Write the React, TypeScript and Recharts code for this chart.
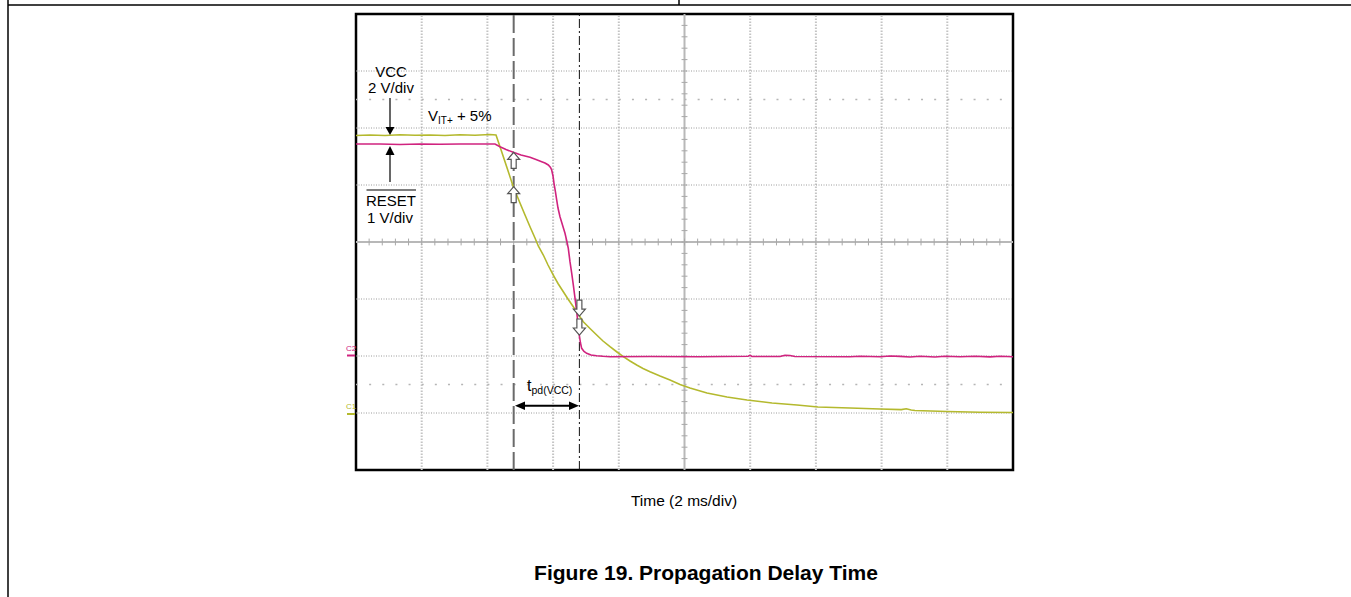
import React from 'react';
import { ComposedChart, Line, XAxis, YAxis, ReferenceLine, ReferenceDot, ReferenceArea } from 'recharts';

// ---- Data (time in ms, voltages in V) ----
const vccTimeMs = [0, 0.426, 0.883, 1.339, 1.796, 2.253, 2.709, 3.166, 3.622, 4.079, 4.262, 4.384, 4.587, 4.788, 4.992, 5.145, 5.297, 5.449, 5.549, 5.702, 5.845, 6.006, 6.149, 6.311, 6.453, 6.615, 6.758, 6.919, 7.123, 7.327, 7.519, 7.732, 7.945, 8.137, 8.341, 8.545, 8.737, 8.95, 9.255, 9.559, 9.863, 10.167, 10.685, 11.294, 11.903, 12.664, 13.425, 14.064, 15.038, 15.951, 16.6, 16.75, 16.9, 17.017, 17.99, 18.995, 20];
const vccVolts = [9.737, 9.754, 9.737, 9.761, 9.744, 9.754, 9.737, 9.761, 9.747, 9.77, 9.754, 9.344, 8.642, 7.94, 7.368, 6.947, 6.537, 6.14, 5.86, 5.544, 5.193, 4.842, 4.544, 4.256, 4.0, 3.73, 3.474, 3.203, 2.965, 2.737, 2.526, 2.326, 2.14, 1.975, 1.825, 1.684, 1.561, 1.449, 1.298, 1.158, 1.0, 0.877, 0.702, 0.561, 0.456, 0.351, 0.281, 0.21, 0.175, 0.14, 0.12, 0.15, 0.105, 0.088, 0.053, 0.028, 0.017];

const resetTimeMs = [0, 0.731, 1.339, 1.948, 2.557, 3.166, 3.775, 4.231, 4.384, 4.566, 4.788, 5.023, 5.297, 5.479, 5.653, 5.753, 5.854, 5.921, 5.957, 5.997, 6.027, 6.073, 6.109, 6.149, 6.21, 6.286, 6.362, 6.423, 6.463, 6.514, 6.566, 6.615, 6.666, 6.718, 6.758, 6.797, 6.834, 6.87, 6.941, 7.023, 7.154, 7.327, 7.519, 7.732, 8.95, 10.472, 11.933, 11.994, 12.055, 12.907, 13.059, 13.211, 13.364, 15.038, 15.342, 15.951, 16.256, 16.56, 16.864, 17.169, 17.625, 17.93, 18.386, 18.843, 19.3, 19.604, 20];
const resetVolts = [3.719, 3.719, 3.711, 3.719, 3.714, 3.719, 3.719, 3.719, 3.672, 3.623, 3.574, 3.526, 3.486, 3.447, 3.409, 3.386, 3.351, 3.307, 3.263, 3.158, 3.03, 2.877, 2.737, 2.596, 2.444, 2.298, 2.153, 2.0, 1.889, 1.654, 1.456, 1.246, 1.018, 0.777, 0.561, 0.368, 0.228, 0.135, 0.079, 0.047, 0.018, 0.005, -0.005, -0.012, -0.009, -0.012, -0.004, 0.012, -0.009, -0.009, 0.012, 0.009, -0.009, -0.012, -0.004, -0.012, 0.0, -0.007, -0.018, -0.004, -0.018, -0.004, -0.014, -0.004, -0.016, -0.005, -0.012];

// oscilloscope graticule (divisions) and cursor positions
const gridTimesMs = [2, 4, 6, 8, 12, 14, 16, 18];
const gridDivs = [-3, -2, -1, 1, 2, 3];
const cursorDivs = [-2.5, 2.5];
const cursorStartMs = 4.8;
const cursorEndMs = 6.8;
const minorTimeTicks = Array.from({ length: 49 }, (_, i) => (i + 1) * 0.4);
const minorDivTicks = Array.from({ length: 39 }, (_, i) => -4 + (i + 1) * 0.2);

// crossing markers
const resetAtStart = 3.574;
const vccAtStart = 7.94;
const vccAtEnd = 3.4;
const resetAtEnd = 0.368;

const vccData = vccTimeMs.map((t, i) => ({ t, v: vccVolts[i] }));
const resetData = resetTimeMs.map((t, i) => ({ t, v: resetVolts[i] }));

const YELLOW = '#b4b92e';
const MAGENTA = '#d0237f';
const FONT = '"Liberation Sans", Arial, Helvetica, sans-serif';

const HollowUp = (props: any) => {
  const { cx, cy } = props;
  return (
    <path
      d={`M${cx},${cy} l6,7 h-3.5 v9 h-5 v-9 h-3.5 z`}
      fill="#fff"
      stroke="#555"
      strokeWidth={1.2}
    />
  );
};

const HollowDown = (props: any) => {
  const { cx, cy } = props;
  return (
    <path
      d={`M${cx},${cy} l-6,-7 h3.5 v-9 h5 v9 h3.5 z`}
      fill="#fff"
      stroke="#555"
      strokeWidth={1.2}
    />
  );
};

export default function App() {
  return (
    <div style={{ position: 'absolute', left: 0, top: 0, width: 1351, height: 597, background: '#fff' }}>
      <ComposedChart
        width={1351}
        height={597}
        margin={{ top: 14, left: 356, right: 338, bottom: 127 }}
      >
        <XAxis type="number" dataKey="t" domain={[0, 20]} allowDataOverflow hide />
        <YAxis yAxisId="div" type="number" domain={[-4, 4]} allowDataOverflow hide />
        <YAxis yAxisId="vcc" type="number" domain={[-2, 14]} allowDataOverflow hide />
        <YAxis yAxisId="reset" type="number" domain={[-2, 6]} allowDataOverflow hide />

        {gridTimesMs.map((t) => (
          <ReferenceLine key={`gx${t}`} x={t} yAxisId="div" stroke="#c4c4c4" strokeWidth={2} strokeDasharray="1.5 1.5" />
        ))}
        {gridDivs.map((d) => (
          <ReferenceLine key={`gy${d}`} y={d} yAxisId="div" stroke="#9c9c9c" strokeWidth={1} strokeDasharray="1 1.5" />
        ))}
        {cursorDivs.map((d) => (
          <ReferenceLine key={`cy${d}`} y={d} yAxisId="div" stroke="#b5b5b5" strokeWidth={1.5} strokeDasharray="2 11.14" />
        ))}

        <ReferenceLine x={10} yAxisId="div" stroke="#b8b8b8" strokeWidth={2} />
        <ReferenceLine y={0} yAxisId="div" stroke="#b8b8b8" strokeWidth={2} />
        {minorTimeTicks.map((t) => (
          <ReferenceLine key={`mt${t}`} yAxisId="div" segment={[{ x: t, y: -0.06 }, { x: t, y: 0.06 }]} stroke="#a8a8a8" strokeWidth={1} />
        ))}
        {minorDivTicks.map((d) => (
          <ReferenceLine key={`md${d}`} yAxisId="div" segment={[{ x: 9.91, y: d }, { x: 10.09, y: d }]} stroke="#a8a8a8" strokeWidth={1} />
        ))}

        <ReferenceLine x={cursorStartMs} yAxisId="div" stroke="#6a6a6a" strokeWidth={2} strokeDasharray="18 5" />
        <ReferenceLine x={cursorEndMs} yAxisId="div" stroke="#111" strokeWidth={1} strokeDasharray="9 3 2 3" />

        <Line data={vccData} dataKey="v" yAxisId="vcc" type="linear" stroke={YELLOW} strokeWidth={1.6} dot={false} isAnimationActive={false} />
        <Line data={resetData} dataKey="v" yAxisId="reset" type="linear" stroke={MAGENTA} strokeWidth={1.6} dot={false} isAnimationActive={false} />

        <ReferenceDot x={cursorStartMs} y={resetAtStart} yAxisId="reset" r={6} shape={<HollowUp />} />
        <ReferenceDot x={cursorStartMs} y={vccAtStart} yAxisId="vcc" r={6} shape={<HollowUp />} />
        <ReferenceDot x={cursorEndMs} y={vccAtEnd} yAxisId="vcc" r={6} shape={<HollowDown />} />
        <ReferenceDot x={cursorEndMs} y={resetAtEnd} yAxisId="reset" r={6} shape={<HollowDown />} />

        <ReferenceArea x1={0} x2={20} y1={-4} y2={4} yAxisId="div" fill="none" fillOpacity={0} stroke="#000" strokeWidth={2.5} ifOverflow="visible" />
      </ComposedChart>

      <svg
        width={1351}
        height={597}
        style={{ position: 'absolute', left: 0, top: 0, pointerEvents: 'none' }}
        fontFamily={FONT}
      >
        {/* page rules */}
        <line x1={8} y1={5} x2={1351} y2={5} stroke="#000" strokeWidth={1.5} />
        <line x1={8} y1={0} x2={8} y2={597} stroke="#000" strokeWidth={1.5} />
        <line x1={679} y1={0} x2={679} y2={5} stroke="#000" strokeWidth={1.5} />

        {/* VCC annotation */}
        <text x={391} y={77} textAnchor="middle" fontSize={15} fill="#000">VCC</text>
        <text x={391} y={93} textAnchor="middle" fontSize={15} fill="#000">2 V/div</text>
        <line x1={390} y1={98} x2={390} y2={128} stroke="#000" strokeWidth={1.2} />
        <polygon points="385.5,127 394.5,127 390,135" fill="#000" />
        <polygon points="390,146 385.5,155 394.5,155" fill="#000" />
        <line x1={390} y1={154} x2={390} y2={182} stroke="#000" strokeWidth={1.2} />

        {/* RESET annotation */}
        <line x1={366.5} y1={190} x2={416} y2={190} stroke="#000" strokeWidth={1.2} />
        <text x={391} y={205.5} textAnchor="middle" fontSize={15} fill="#000">RESET</text>
        <text x={390} y={223} textAnchor="middle" fontSize={15} fill="#000">1 V/div</text>

        {/* VIT+ annotation */}
        <text x={428} y={121} fontSize={15} fill="#000">
          V<tspan fontSize={10} dy={3}>IT+</tspan><tspan dy={-3}> + 5%</tspan>
        </text>

        {/* tpd annotation */}
        <text x={527} y={391} fontSize={16} fill="#000">
          t<tspan fontSize={10.5} dy={3}>pd(VCC)</tspan>
        </text>
        <line x1={521} y1={405.7} x2={572} y2={405.7} stroke="#000" strokeWidth={2} />
        <polygon points="515,405.7 525,401.5 525,409.9" fill="#000" />
        <polygon points="579,405.7 569,401.5 569,409.9" fill="#000" />

        {/* channel ground markers */}
        <text x={346} y={350.5} fontSize={8} fill={MAGENTA}>C2</text>
        <line x1={347} y1={355.5} x2={355} y2={355.5} stroke={MAGENTA} strokeWidth={2} />
        <text x={346} y={409} fontSize={8} fill={YELLOW}>C1</text>
        <line x1={347} y1={414} x2={355} y2={414} stroke={YELLOW} strokeWidth={2} />

        {/* axis caption and title */}
        <text x={684} y={506} textAnchor="middle" fontSize={15.5} fill="#000">Time (2 ms/div)</text>
        <text x={706} y={580} textAnchor="middle" fontSize={21} fontWeight="bold" fill="#000">Figure 19. Propagation Delay Time</text>
      </svg>
    </div>
  );
}
